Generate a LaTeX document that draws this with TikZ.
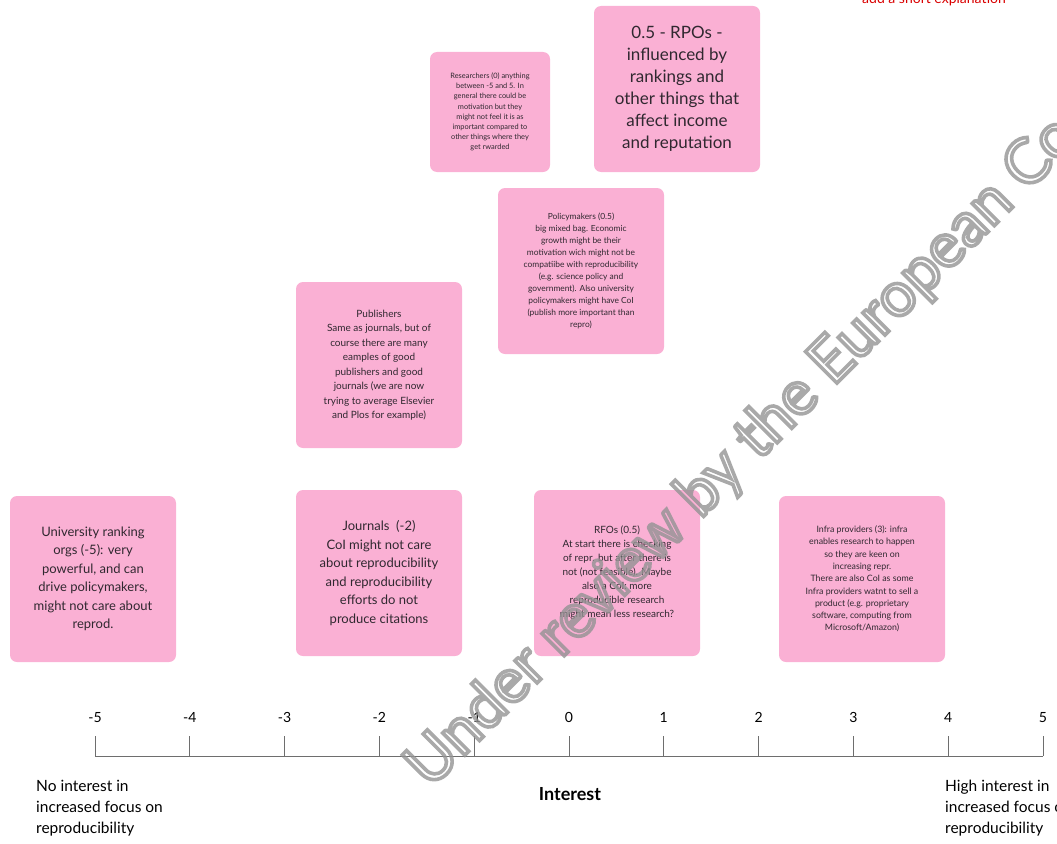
\documentclass[tikz,border=0pt]{standalone}
\usepackage{fontspec}
\setmainfont{Lato}
\usetikzlibrary{positioning}
\definecolor{notepink}{RGB}{250,176,212}
\definecolor{inktext}{RGB}{48,40,48}
\definecolor{axisgray}{RGB}{110,110,110}
\tikzstyle{note}=[rounded corners=7pt,fill=notepink,text=inktext,align=center,inner sep=0pt,minimum width=166,minimum height=166]
\tikzstyle{ticklabel}=[text=black,font=\fontsize{14}{16}\selectfont,anchor=base]
\tikzstyle{endlabel}=[text=black,align=left,anchor=north west,inner sep=0pt,font=\fontsize{15.5}{21}\selectfont]
\newcommand{\hollowtext}[1]{\special{pdf:literal direct 1 Tr 3.6 w}#1\special{pdf:literal direct 0 Tr}}

\begin{document}
\begin{tikzpicture}[x=1pt,y=-1pt]
    \useasboundingbox (0,0) rectangle (1057,843);
    % the sticky notes
    \node[note,minimum width=120,minimum height=120,font=\fontsize{7.4}{10.2}\selectfont] (researchers) at (490,112)
        {Researchers (0) anything\\between -5 and 5. In\\general there could be\\motivation but they\\might not feel it is as\\important compared to\\other things where they\\get rwarded};
    \node[note,font=\fontsize{17}{22}\selectfont] (rpos) at (677,89)
        {0.5 - RPOs -\\influenced by\\rankings and\\other things that\\affect income\\and reputation};
    \node[note,font=\fontsize{8.4}{12}\selectfont] (policymakers) at (581,271)
        {Policymakers (0.5)\\big mixed bag. Economic\\growth might be their\\motivation wich might not be\\compatiibe with reproducibility\\(e.g. science policy and\\government). Also university\\policymakers might have CoI\\(publish more important than\\repro)};
    \node[note,font=\fontsize{10}{14.5}\selectfont] (publishers) at (379,365)
        {Publishers\\Same as journals, but of\\course there are many\\eamples of good\\publishers and good\\journals (we are now\\trying to average Elsevier\\and Plos for example)};
    \node[note,font=\fontsize{13}{18.5}\selectfont] (rankingorgs) at (93,579)
        {University ranking\\orgs (-5): very\\powerful, and can\\drive policymakers,\\might not care about\\reprod.};
    \node[note,font=\fontsize{13}{18.5}\selectfont] (journals) at (379,573)
        {Journals\ \ (-2)\\CoI might not care\\about reproducibility\\and reproducibility\\efforts do not\\produce citations};
    \node[note,font=\fontsize{10}{14}\selectfont] (rfos) at (617,573)
        {RFOs (0.5)\\At start there is checking\\of repr. but after there is\\not (not feasible). Maybe\\also a CoI: more\\reproducible research\\might mean less research?};
    \node[note,font=\fontsize{8.8}{12.3}\selectfont] (infra) at (862,579)
        {Infra providers (3): infra\\enables research to happen\\so they are keen on\\increasing repr.\\There are also CoI as some\\Infra providers watnt to sell a\\product (e.g. proprietary\\software, computing from\\Microsoft/Amazon)};
    % the interest scale
    \foreach \val [count=\i from 0] in {-5,-4,-3,-2,-1,0,1,2,3,4,5} {
        \coordinate (base\i) at (95+94.8*\i,756);
        \coordinate (top\i) at (95+94.8*\i,736);
        \draw[axisgray,line width=0.9pt] (base\i) -- (top\i);
        \node[ticklabel] (val\i) at (95+94.8*\i,722) {\val};
    }
    \draw[axisgray,line width=0.9pt] (base0) -- (base10);
    \node[endlabel] (noint) at (36,780) {No interest in\\increased focus on\\reproducibility};
    \node[text=black,font=\bfseries\fontsize{18}{20}\selectfont,anchor=base] (interest) at (570,800) {Interest};
    \node[endlabel] (highint) at (945,780) {High interest in\\increased focus on\\reproducibility};
    % cut off remark and review stamp
    \node[text=red!85!black,anchor=base west,inner sep=0pt,font=\fontsize{14}{16}\selectfont] (remark) at (862,4) {add a short explanation};
    \node[text=gray!85,opacity=0.8,anchor=base west,inner sep=0pt,rotate=45,font=\fontsize{62}{64}\selectfont] (stamp) at (430,790) {\hollowtext{Under review by the European Commission}};
\end{tikzpicture}
\end{document}
